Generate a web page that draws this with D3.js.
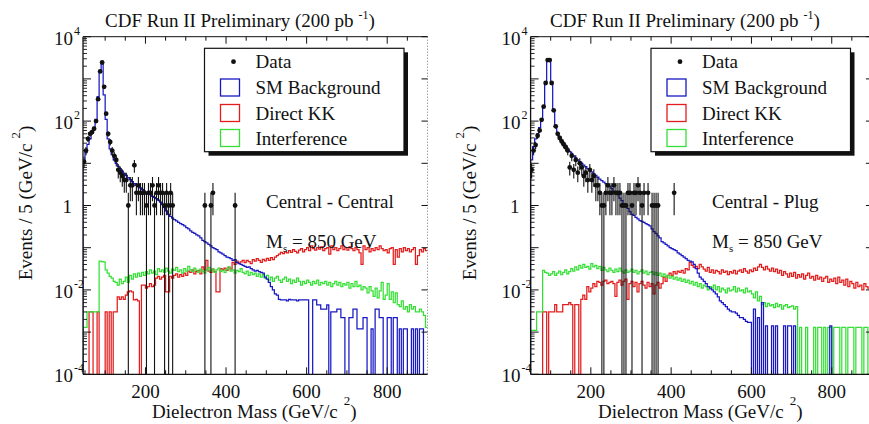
<!DOCTYPE html>
<html>
<head>
<meta charset="utf-8">
<script src="https://cdn.jsdelivr.net/npm/d3@7"></script>
<style>
  body { margin: 0; background: #fff; }
  svg { display: block; }
</style>
</head>
<body>
<svg id="chart" width="869" height="424"></svg>
<script>
// Dielectron mass spectra, 5 GeV bins (events per bin).
const binWidth = 5;

// ---------- Central - Central (bins start at 45 GeV) ----------
const ccStart = 45;
const ccBackground = [
  10, 18, 28, 38, 52, 68, 110, 380, 1500, 2500,
  420, 110, 38, 22, 16, 12, 10, 8.5, 7.5, 6.5,
  5.8, 5.2, 4.6, 4.1, 3.7, 3.3, 3.0, 2.8, 2.6, 2.4,
  2.2, 2.05, 1.9, 1.8, 1.65, 1.55, 1.45, 1.35, 1.2, 1.05,
  0.9, 0.75, 0.62, 0.55, 0.5, 0.46, 0.43, 0.4, 0.37, 0.35,
  0.33, 0.3, 0.28, 0.25, 0.23, 0.22, 0.2, 0.19, 0.17, 0.15,
  0.14, 0.13, 0.12, 0.11, 0.1, 0.095, 0.09, 0.08, 0.075, 0.07,
  0.065, 0.06, 0.058, 0.055, 0.05, 0.052, 0.045, 0.042, 0.04, 0.038,
  0.036, 0.034, 0.035, 0.032, 0.03, 0.028, 0.029, 0.027, 0.026, 0.025,
  0.02, 0.018, 0.015, 0.012, 0.01, 0.008, 0.0075, 0.006, 0.0058, 0.0058,
  0.0058, 0.0055, 0.006, 0.0058, 0.0058, 0.0058, 0.0055, 0.0058, 0.0058, 0.0058,
  0.0058, 0.0058, 0, 0, 0.0058, 0.0058, 0.0044, 0.0044, 0.0035, 0.0035,
  0.0035, 0.0044, 0, 0.003, 0.003, 0.003, 0.0035, 0.0035, 0.0022, 0.0022,
  0, 0, 0.0022, 0.0022, 0.0035, 0.0035, 0.0012, 0.0012, 0.0012, 0.0022,
  0.0022, 0, 0, 0.0012, 0, 0.0035, 0.0035, 0.0022, 0.0022, 0,
  0, 0.0022, 0.0022, 0, 0.0022, 0.0022, 0, 0.0012, 0, 0.0012,
  0.0012, 0, 0, 0.0012, 0, 0.0012, 0, 0.0012, 0.0012, 0,
  0
];
const ccDirectKK = [
  0, 0, 0, 0.003, 0.003, 0, 0, 0.003, 0, 0,
  0, 0.003, 0, 0.003, 0, 0.003, 0.003, 0.0068, 0.006, 0.0068,
  0.006, 0.0075, 0.009, 0.0095, 0.009, 0.0058, 0.006, 0.0055, 0, 0.013,
  0.013, 0.011, 0.012, 0.014, 0.012, 0.013, 0.019, 0.021, 0.018, 0.02,
  0.022, 0.009, 0.009, 0.021, 0.019, 0.022, 0.024, 0.02, 0.023, 0.021,
  0.025, 0.022, 0.028, 0.026, 0.03, 0.024, 0.027, 0.029, 0.024, 0.035,
  0.03, 0.05, 0.028, 0.026, 0.031, 0.027, 0.009, 0.009, 0.032, 0.03,
  0.033, 0.029, 0.034, 0.031, 0.045, 0.04, 0.048, 0.043, 0.046, 0.05,
  0.044, 0.05, 0.047, 0.042, 0.052, 0.048, 0.055, 0.05, 0.045, 0.053,
  0.049, 0.056, 0.05, 0.058, 0.052, 0.06, 0.065, 0.07, 0.078, 0.072,
  0.08, 0.075, 0.085, 0.078, 0.09, 0.082, 0.075, 0.088, 0.095, 0.08,
  0.09, 0.1, 0.085, 0.11, 0.095, 0.088, 0.1, 0.092, 0.105, 0.085,
  0.095, 0.1, 0.07, 0.11, 0.09, 0.1, 0.085, 0.095, 0.11, 0.09,
  0.1, 0.088, 0.105, 0.095, 0.085, 0.1, 0.09, 0.075, 0.04, 0.11,
  0.09, 0.1, 0.08, 0.095, 0.085, 0.1, 0.09, 0.11, 0.095, 0.085,
  0.09, 0.075, 0.095, 0.1, 0.04, 0.09, 0.06, 0.095, 0.08, 0.1,
  0.085, 0.095, 0.08, 0.09, 0.1, 0.04, 0.065, 0.09, 0.08, 0.095,
  0.085
];
const ccInterference = [
  0.0013, 0.0013, 0.003, 0.003, 0.003, 0.003, 0.003, 0.003, 0.048, 0.047,
  0.046, 0.03, 0.025, 0.021, 0.019, 0.016, 0.015, 0.013, 0.018, 0.014,
  0.016, 0.02, 0.015, 0.022, 0.018, 0.024, 0.02, 0.025, 0.021, 0.026,
  0.022, 0.027, 0.024, 0.03, 0.025, 0.028, 0.023, 0.032, 0.027, 0.03,
  0.026, 0.033, 0.028, 0.025, 0.031, 0.029, 0.034, 0.027, 0.03, 0.025,
  0.032, 0.028, 0.036, 0.03, 0.027, 0.033, 0.029, 0.026, 0.031, 0.028,
  0.025, 0.03, 0.034, 0.028, 0.031, 0.026, 0.03, 0.033, 0.027, 0.029,
  0.026, 0.031, 0.035, 0.028, 0.03, 0.025, 0.029, 0.027, 0.032, 0.026,
  0.024, 0.028, 0.022, 0.026, 0.023, 0.025, 0.021, 0.024, 0.02, 0.023,
  0.019, 0.022, 0.017, 0.02, 0.016, 0.019, 0.021, 0.017, 0.015, 0.018,
  0.02, 0.016, 0.018, 0.014, 0.017, 0.015, 0.019, 0.016, 0.013, 0.016,
  0.014, 0.017, 0.015, 0.013, 0.016, 0.014, 0.017, 0.013, 0.015, 0.014,
  0.016, 0.013, 0.015, 0.012, 0.014, 0.016, 0.013, 0.015, 0.012, 0.014,
  0.013, 0.015, 0.011, 0.014, 0.012, 0.016, 0.012, 0.013, 0.01, 0.012,
  0.011, 0.0085, 0.012, 0.0095, 0.007, 0.011, 0.0065, 0.0095, 0.015, 0.006,
  0.0075, 0.014, 0.006, 0.009, 0.005, 0.0085, 0.0045, 0.004, 0.0055, 0.0035,
  0.004, 0.003, 0.0045, 0.0035, 0.004, 0.003, 0.003, 0.0035, 0.003, 0.0025,
  0.0013
];
// Observed events: bin low edge (GeV) and count
const ccDataMass = [
  45, 50, 55, 60, 65, 70, 75, 80, 85, 90, 95, 100, 105, 110, 115, 120, 125,
  130, 135, 140, 145, 150, 155, 160, 165, 170, 175, 180, 185, 190, 195, 200,
  205, 210, 215, 220, 225, 230, 235, 240, 245, 250, 255, 260, 265, 345, 360,
  365, 420
];
const ccDataCounts = [
  11, 20, 38, 50, 55, 66, 100, 330, 1500, 2450, 650, 150, 50, 32, 20, 15, 12,
  7, 6, 5, 4, 4, 1, 3, 3, 9, 2, 3, 2, 2, 2, 1,
  2, 2, 3, 1, 2, 3, 2, 2, 1, 2, 1, 2, 1, 1, 1,
  2, 1
];

// ---------- Central - Plug (bins start at 50 GeV) ----------
const cpStart = 50;
const cpBackground = [
  12, 25, 38, 50, 70, 110, 220, 800, 2800, 2800,
  750, 180, 75, 50, 42, 35, 30, 26, 22, 19,
  17, 15, 13.5, 12, 11, 10, 9, 8.3, 7.5, 7,
  6.3, 5.7, 5.2, 4.7, 4.2, 3.9, 3.6, 3.3, 3.0, 2.8,
  2.5, 2.2, 2.0, 1.8, 1.5, 1.3, 1.1, 0.95, 0.85, 0.72,
  0.62, 0.58, 0.52, 0.48, 0.44, 0.42, 0.4, 0.37, 0.35, 0.33,
  0.28, 0.24, 0.22, 0.19, 0.17, 0.14, 0.13, 0.12, 0.11, 0.1,
  0.095, 0.09, 0.085, 0.075, 0.07, 0.065, 0.06, 0.055, 0.05, 0.048,
  0.046, 0.04, 0.032, 0.025, 0.02, 0.018, 0.016, 0.014, 0.012, 0.011,
  0.01, 0.009, 0.008, 0.0068, 0.0055, 0.005, 0.0045, 0.004, 0.0035, 0.0032,
  0.003, 0.003, 0.0028, 0.0025, 0.0022, 0.0022, 0.002, 0.0018, 0.0017, 0.0017,
  0, 0.0035, 0, 0.0022, 0, 0.005, 0, 0.0014, 0, 0,
  0.0014, 0, 0.0014, 0, 0, 0, 0.0014, 0, 0.0014, 0.0014,
  0, 0.0014, 0, 0, 0, 0, 0, 0, 0, 0,
  0, 0, 0, 0, 0, 0, 0, 0, 0, 0.0014,
  0, 0, 0, 0, 0, 0, 0, 0, 0, 0,
  0, 0, 0, 0, 0, 0, 0, 0, 0, 0
];
const cpDirectKK = [
  0, 0, 0, 0, 0, 0, 0.003, 0.003, 0, 0.003,
  0.003, 0.003, 0.0045, 0.003, 0.003, 0.003, 0.0045, 0.0045, 0.0045, 0.005,
  0.0045, 0, 0.0045, 0.0045, 0, 0.006, 0.0075, 0.006, 0.012, 0.009,
  0.011, 0.014, 0.012, 0.016, 0.015, 0.013, 0.016, 0.017, 0.014, 0.015,
  0.016, 0.014, 0.007, 0.015, 0.017, 0.013, 0.016, 0.018, 0.006, 0.014,
  0.016, 0.012, 0.015, 0.009, 0.014, 0.016, 0.013, 0.011, 0.015, 0.012,
  0.014, 0.008, 0.013, 0.015, 0.011, 0.014, 0.02, 0.016, 0.022, 0.025,
  0.022, 0.027, 0.024, 0.028, 0.026, 0.029, 0.025, 0.032, 0.03, 0.045,
  0.038, 0.034, 0.036, 0.032, 0.04, 0.035, 0.031, 0.028, 0.034, 0.026,
  0.03, 0.025, 0.029, 0.027, 0.024, 0.03, 0.026, 0.028, 0.023, 0.027,
  0.025, 0.029, 0.024, 0.028, 0.03, 0.026, 0.032, 0.028, 0.025, 0.03,
  0.027, 0.033, 0.029, 0.035, 0.04, 0.034, 0.03, 0.036, 0.031, 0.028,
  0.033, 0.027, 0.031, 0.025, 0.029, 0.022, 0.027, 0.024, 0.02, 0.025,
  0.021, 0.026, 0.019, 0.023, 0.02, 0.024, 0.018, 0.022, 0.025, 0.019,
  0.021, 0.017, 0.022, 0.018, 0.02, 0.016, 0.019, 0.021, 0.015, 0.018,
  0.016, 0.019, 0.014, 0.02, 0.015, 0.017, 0.013, 0.018, 0.012, 0.016,
  0.014, 0.011, 0.015, 0.012, 0.013, 0.01, 0.014, 0.012, 0.011, 0.013
];
const cpInterference = [
  0.0011, 0.0011, 0.0011, 0.003, 0.003, 0.003, 0.029, 0.026, 0.025, 0.022,
  0.024, 0.027, 0.022, 0.025, 0.028, 0.023, 0.026, 0.03, 0.024, 0.027,
  0.032, 0.028, 0.035, 0.03, 0.038, 0.033, 0.04, 0.034, 0.036, 0.031,
  0.042, 0.035, 0.038, 0.032, 0.036, 0.029, 0.034, 0.03, 0.027, 0.033,
  0.029, 0.026, 0.031, 0.027, 0.033, 0.028, 0.025, 0.03, 0.026, 0.028,
  0.031, 0.026, 0.029, 0.024, 0.027, 0.03, 0.025, 0.028, 0.023, 0.026,
  0.027, 0.023, 0.026, 0.022, 0.025, 0.021, 0.024, 0.02, 0.022, 0.019,
  0.021, 0.018, 0.02, 0.017, 0.019, 0.016, 0.018, 0.015, 0.017, 0.014,
  0.016, 0.013, 0.015, 0.012, 0.014, 0.011, 0.013, 0.012, 0.01, 0.012,
  0.011, 0.013, 0.01, 0.012, 0.009, 0.011, 0.01, 0.0085, 0.011, 0.0095,
  0.01, 0.012, 0.009, 0.011, 0.0095, 0.01, 0.0085, 0.011, 0.009, 0.0095,
  0.008, 0.0065, 0.009, 0.0055, 0.007, 0.0045, 0.005, 0.004, 0.0048, 0.0042,
  0.0045, 0.0038, 0.0048, 0.004, 0.0045, 0.0035, 0.0042, 0.0045, 0.0038, 0.004,
  0.0042, 0.0035, 0.004, 0, 0.0013, 0, 0, 0.0013, 0, 0,
  0, 0.0013, 0, 0.0013, 0.0013, 0, 0.0013, 0, 0.0013, 0.0013,
  0, 0.0013, 0.0013, 0.0013, 0, 0.0013, 0.0013, 0, 0.0013, 0.0013,
  0.0013, 0, 0.0013, 0.0013, 0.0013, 0, 0.0013, 0.0013, 0, 0.0013
];
const cpDataMass = [
  50, 55, 60, 65, 70, 75, 80, 85, 90, 95, 100, 105, 110, 115, 120, 125, 130,
  135, 140, 145, 150, 155, 160, 165, 170, 175, 180, 185, 190, 195, 200, 205,
  210, 215, 220, 225, 230, 235, 240, 245, 250, 255, 260, 265, 270, 275, 280,
  285, 290, 295, 300, 305, 310, 315, 320, 325, 330, 340, 350, 355, 360, 365,
  405
];
const cpDataCounts = [
  7, 20, 27, 45, 60, 107, 220, 800, 2800, 2800, 800, 180, 75, 50, 40, 33, 28,
  24, 20, 8, 15, 7, 12, 6, 10, 8, 5, 6, 4, 7, 4, 5,
  3, 3, 2, 1, 1, 2, 3, 2, 2, 3, 2, 2, 2, 1, 1,
  1, 2, 2, 1, 2, 2, 3, 2, 1, 2, 2, 1, 1, 1, 1,
  2
];

// Axis labelling
const yLabelExponents = [4, 2, 0, -2, -4];
const xTickLabels = [200, 400, 600, 800];
const legendLabels = ["Data", "SM Background", "Direct KK", "Interference"];
const seriesColors = { background: "#1818c4", kk: "#e31c1c", interference: "#36df36", data: "#111" };

const panels = [
  { start: ccStart, domain: [45, 900], x0: 83, x1: 427.5,
    background: ccBackground, kk: ccDirectKK, interference: ccInterference,
    dataMass: ccDataMass, dataCounts: ccDataCounts,
    region: "Central - Central", regionX: 266, titleX: 105, yLabelX: 32, xLabelX: 152,
    legendX: 204.5 },
  { start: cpStart, domain: [50, 900], x0: 530.6, x1: 871.9,
    background: cpBackground, kk: cpDirectKK, interference: cpInterference,
    dataMass: cpDataMass, dataCounts: cpDataCounts,
    region: "Central - Plug", regionX: 712, titleX: 550, yLabelX: 476, xLabelX: 598,
    legendX: 651 }
];

const FONT = "Liberation Serif";
const svg = d3.select("#chart");
const yTop = 36.7, yBot = 374.3;
const y = d3.scaleLog().domain([1e-4, 1e4]).range([yBot, yTop]);
const floorVal = 3e-5;
const FS = 19;

function label(sel) {
  return sel.style("font-family", `'${FONT}'`).attr("fill", "#111");
}

panels.forEach((p, k) => {
  const x = d3.scaleLinear().domain(p.domain).range([p.x0, p.x1]);
  const g = svg.append("g");

  const clipId = "plotclip" + k;
  svg.append("clipPath").attr("id", clipId)
    .append("rect").attr("x", p.x0).attr("y", yTop)
    .attr("width", p.x1 - p.x0).attr("height", yBot - yTop);
  const plot = g.append("g").attr("clip-path", `url(#${clipId})`);

  const stepLine = d3.line().x(d => x(d[0])).y(d => y(d[1])).curve(d3.curveStepAfter);
  function histogram(values, color) {
    const pts = [[p.start, floorVal]];
    values.forEach((v, i) => pts.push([p.start + i * binWidth, Math.max(v, floorVal)]));
    pts.push([p.start + values.length * binWidth, Math.max(values[values.length - 1], floorVal)]);
    plot.append("path").attr("d", stepLine(pts))
      .attr("fill", "none").attr("stroke", color).attr("stroke-width", 1.25);
  }
  histogram(p.kk, seriesColors.kk);
  histogram(p.interference, seriesColors.interference);
  histogram(p.background, seriesColors.background);

  // data points with Poisson error bars
  p.dataMass.forEach((m, i) => {
    const n = p.dataCounts[i];
    const cx = x(m + binWidth / 2);
    const err = Math.sqrt(n);
    plot.append("line").attr("x1", cx).attr("x2", cx)
      .attr("y1", y(Math.max(n - err, floorVal))).attr("y2", y(n + err))
      .attr("stroke", seriesColors.data).attr("stroke-width", 1.1);
    plot.append("circle").attr("cx", cx).attr("cy", y(n)).attr("r", 2.4)
      .attr("fill", seriesColors.data);
  });

  // frame
  const frame = g.append("g").attr("stroke", "#111").attr("fill", "none");
  frame.append("line").attr("x1", p.x0).attr("x2", p.x0).attr("y1", yTop).attr("y2", yBot).attr("stroke-width", 1.3);
  frame.append("line").attr("x1", p.x0).attr("x2", p.x1).attr("y1", yBot).attr("y2", yBot).attr("stroke-width", 1.3);
  frame.append("line").attr("x1", p.x0).attr("x2", p.x1).attr("y1", yTop).attr("y2", yTop).attr("stroke-width", 1);
  frame.append("line").attr("x1", p.x1).attr("x2", p.x1).attr("y1", yTop).attr("y2", yBot)
    .attr("stroke-width", 1).attr("stroke", "#777").attr("stroke-dasharray", "1,2");

  // y ticks: decades and minor 2..9
  for (let e = -4; e <= 4; e++) {
    const yy = y(Math.pow(10, e));
    frame.append("line").attr("x1", p.x0).attr("x2", p.x0 + 8).attr("y1", yy).attr("y2", yy);
    frame.append("line").attr("x1", p.x1).attr("x2", p.x1 - 6).attr("y1", yy).attr("y2", yy);
    if (e < 4) {
      for (let m = 2; m <= 9; m++) {
        const ym = y(m * Math.pow(10, e));
        frame.append("line").attr("x1", p.x0).attr("x2", p.x0 + 4).attr("y1", ym).attr("y2", ym).attr("stroke-width", 0.9);
      }
    }
  }
  // x ticks every 50 GeV, top and bottom
  for (let v = 50; v < p.domain[1]; v += 50) {
    if (v <= p.domain[0]) continue;
    const xx = x(v);
    const len = (v % 200 === 0) ? 7 : 4;
    frame.append("line").attr("x1", xx).attr("x2", xx).attr("y1", yBot).attr("y2", yBot - len);
    frame.append("line").attr("x1", xx).attr("x2", xx).attr("y1", yTop).attr("y2", yTop + len);
  }

  // x tick labels
  xTickLabels.forEach(v => {
    label(g.append("text")).attr("x", x(v)).attr("y", 398).attr("text-anchor", "middle")
      .attr("font-size", FS).text(v);
  });
  // y tick labels
  yLabelExponents.forEach(e => {
    const yy = y(Math.pow(10, e));
    if (e === 0) {
      label(g.append("text")).attr("x", p.x0 - 11).attr("y", yy + 7).attr("text-anchor", "end")
        .attr("font-size", FS).text("1");
    } else {
      label(g.append("text")).attr("x", p.x0 - 10).attr("y", yy + 8).attr("text-anchor", "end")
        .attr("font-size", FS).text("10");
      label(g.append("text")).attr("x", p.x0 - 9).attr("y", yy - 2).attr("font-size", 12).text(e);
    }
  });

  // title
  const t = label(g.append("text")).attr("x", p.titleX).attr("y", 27).attr("font-size", FS);
  t.append("tspan").text("CDF Run II Preliminary (200 pb");
  t.append("tspan").attr("dx", 5).attr("dy", -8).attr("font-size", 12).text("-1");
  t.append("tspan").attr("dy", 8).text(")");

  // axis titles
  const xl = label(g.append("text")).attr("x", p.xLabelX).attr("y", 418).attr("font-size", FS);
  xl.append("tspan").text("Dielectron Mass (GeV/c");
  xl.append("tspan").attr("dx", 6).attr("dy", -13).attr("font-size", 13).text("2");
  xl.append("tspan").attr("dx", 0).attr("dy", 13).text(")");

  const yl = label(g.append("text")).attr("transform", `translate(${p.yLabelX},203) rotate(-90)`)
    .attr("text-anchor", "middle").attr("font-size", FS);
  yl.append("tspan").text("Events / 5 (GeV/c");
  yl.append("tspan").attr("dx", 5).attr("dy", -12).attr("font-size", 13).text("2");
  yl.append("tspan").attr("dx", 0).attr("dy", 12).text(")");

  // annotations
  label(g.append("text")).attr("x", p.regionX).attr("y", 208).attr("font-size", FS).text(p.region);
  const ms = label(g.append("text")).attr("x", p.regionX).attr("y", 248).attr("font-size", FS);
  ms.append("tspan").text("M");
  ms.append("tspan").attr("dy", 4).attr("font-size", 11).text("s");
  ms.append("tspan").attr("dy", -4).text(" = 850 GeV");

  // legend
  const lx = p.legendX, ly = 48.3, lw = 199.5, lh = 103.4;
  g.append("rect").attr("x", lx + 4).attr("y", ly + 4).attr("width", lw).attr("height", lh).attr("fill", "#111");
  g.append("rect").attr("x", lx).attr("y", ly).attr("width", lw).attr("height", lh)
    .attr("fill", "#fff").attr("stroke", "#111").attr("stroke-width", 1.2);
  const rowsY = [61.7, 87.5, 113, 138];
  const swatchColors = [null, seriesColors.background, seriesColors.kk, seriesColors.interference];
  legendLabels.forEach((name, i) => {
    const cy = rowsY[i];
    if (i === 0) {
      g.append("circle").attr("cx", lx + 29).attr("cy", cy).attr("r", 2.4).attr("fill", "#111");
    } else {
      g.append("rect").attr("x", lx + 16).attr("y", cy - 8.5).attr("width", 19).attr("height", 17)
        .attr("fill", "none").attr("stroke", swatchColors[i]).attr("stroke-width", 1.3);
    }
    label(g.append("text")).attr("x", lx + 51).attr("y", cy + 6.5).attr("font-size", FS).text(name);
  });
});
</script>
</body>
</html>
